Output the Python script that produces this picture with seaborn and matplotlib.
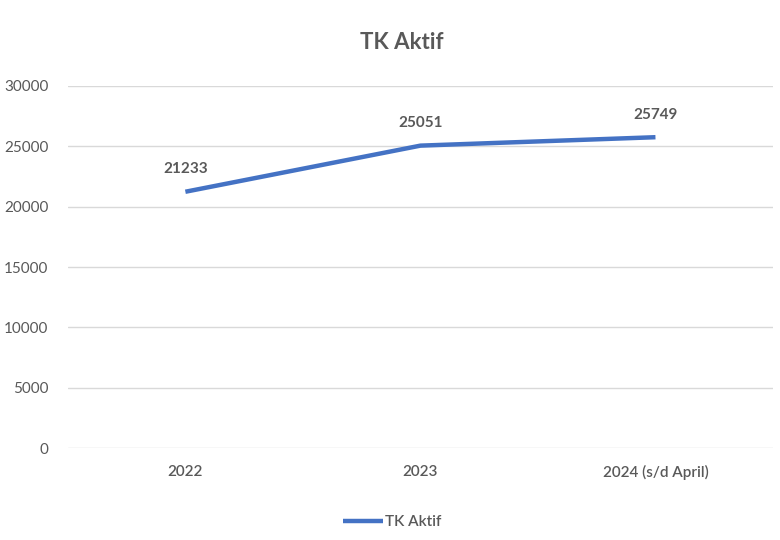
import matplotlib
matplotlib.use("Agg")
import matplotlib.pyplot as plt
import seaborn as sns
import pandas as pd

years = ["2022", "2023", "2024 (s/d April)"]
tk_aktif = [21233, 25051, 25749]
series_name = "TK Aktif"
y_ticks = [0, 5000, 10000, 15000, 20000, 25000, 30000]

sns.set_theme(style="white")
plt.rcParams["font.family"] = ["Lato", "DejaVu Sans"]

text_color = "#595959"
line_color = "#4472C4"

df = pd.DataFrame({"Tahun": years, "Jumlah": tk_aktif, "Seri": series_name})

fig = plt.figure(figsize=(7.8, 5.4), dpi=100)
ax = fig.add_axes([0.087, 0.170, 0.904, 0.671])

sns.lineplot(data=df, x="Tahun", y="Jumlah", hue="Seri", palette=[line_color],
             linewidth=3.2, ax=ax, sort=False, solid_capstyle="butt")

ax.set_xlim(-0.5, len(years) - 0.5)
ax.set_ylim(0, 30000)
ax.set_yticks(y_ticks)
ax.set_yticklabels([str(v) for v in y_ticks])
ax.grid(axis="y", color="#D9D9D9", linewidth=1)
ax.grid(axis="x", visible=False)
for s in ax.spines.values():
    s.set_visible(False)
ax.tick_params(axis="both", length=0, labelsize=11, colors=text_color)
ax.tick_params(axis="y", pad=14)
ax.tick_params(axis="x", pad=12)
for lbl in ax.get_xticklabels():
    lbl.set_fontweight("semibold")
ax.set_xlabel("")
ax.set_ylabel("")

for i, v in enumerate(tk_aktif):
    ax.annotate(str(v), (i, v), xytext=(0, 11), textcoords="offset points",
                ha="center", va="bottom", fontsize=11, fontweight="bold",
                color=text_color)

fig.suptitle("TK Aktif", x=0.515, y=0.94, fontsize=16, fontweight="bold",
             color=text_color)

leg = ax.legend(loc="center", bbox_to_anchor=(0.46, -0.205), frameon=False,
                fontsize=11, handlelength=2.6, handletextpad=0.1)
for t in leg.get_texts():
    t.set_color(text_color)
    t.set_fontweight("semibold")

fig.savefig("out.png", dpi=100, facecolor="white")
